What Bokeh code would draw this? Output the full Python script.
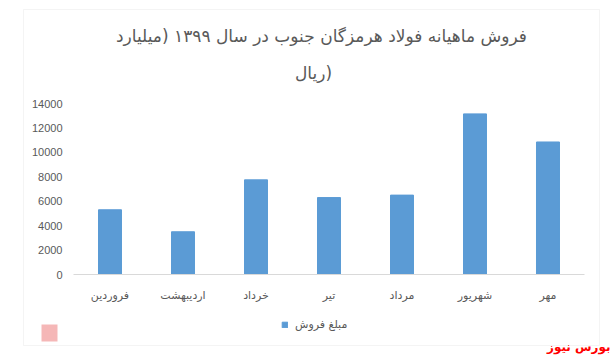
from bokeh.plotting import figure
from bokeh.models import (Range1d, Legend, LegendItem, Label,
                          BoxAnnotation, FixedTicker)
from bokeh.embed import file_html
from bokeh.resources import INLINE

months = ["فروردین", "اردیبهشت", "خرداد", "تیر", "مرداد", "شهریور", "مهر"]
sales = [5300, 3500, 7750, 6300, 6500, 13150, 10850]
y_ticks = [0, 2000, 4000, 6000, 8000, 10000, 12000, 14000]
title_line1 = "فروش ماهیانه فولاد هرمزگان جنوب در سال ۱۳۹۹ (میلیارد"
title_line2 = "ریال)"
series_name = "مبلغ فروش"
watermark = "بورس نیوز"

AR_FONT = "DejaVu Sans"
GRAY = "#595959"

positions = list(range(len(months)))

# the plot frame spans the whole canvas; ranges are chosen so that the
# data region sits where the reference draws it
p = figure(x_range=Range1d(-1.5, 6.911), y_range=Range1d(-6795, 22433),
           width=614, height=357, output_backend="svg", toolbar_location=None,
           min_border=0)
p.outline_line_color = None
p.xgrid.grid_line_color = None
p.ygrid.grid_line_color = None

r = p.vbar(x=positions, top=sales, width=0.315, color="#5b9bd5")

yax = p.yaxis[0]
yax.fixed_location = -0.5
yax.ticker = FixedTicker(ticks=y_ticks)
yax.axis_line_color = None
yax.major_tick_line_color = None
yax.minor_tick_line_color = None
yax.major_tick_out = 0
yax.major_tick_in = 0
yax.major_label_standoff = 11
yax.major_label_text_color = GRAY
yax.major_label_text_font = "Liberation Sans"
yax.major_label_text_font_size = "11px"

xax = p.xaxis[0]
xax.fixed_location = 0
xax.bounds = (-0.5, len(months) - 0.5)
xax.ticker = FixedTicker(ticks=positions)
xax.major_label_overrides = {i: m for i, m in zip(positions, months)}
xax.axis_line_color = "#d9d9d9"
xax.major_tick_line_color = None
xax.minor_tick_line_color = None
xax.major_tick_out = 0
xax.major_tick_in = 0
xax.major_label_standoff = 14
xax.major_label_text_color = GRAY
xax.major_label_text_font = AR_FONT
xax.major_label_text_font_size = "11px"

legend = Legend(items=[LegendItem(label=series_name, renderers=[r])],
                orientation="horizontal", location=(281, 26),
                glyph_width=7, glyph_height=7, label_standoff=7,
                label_height=13,
                label_text_color=GRAY, label_text_font=AR_FONT,
                label_text_font_size="11px", border_line_color=None,
                background_fill_alpha=0, margin=0, padding=0)
p.add_layout(legend, "center")

# chart border
p.add_layout(BoxAnnotation(left=23, right=599, top=348, bottom=12,
                           left_units="screen", right_units="screen",
                           top_units="screen", bottom_units="screen",
                           fill_color=None, line_color="#d9d9d9", line_width=1))

for txt, x, y in [(title_line1, 321, 322), (title_line2, 313, 285)]:
    p.add_layout(Label(x=x, y=y, x_units="screen", y_units="screen", text=txt,
                       text_align="center", text_baseline="middle",
                       text_font=AR_FONT, text_font_size="17px",
                       text_color=GRAY))

p.add_layout(Label(x=610, y=11, x_units="screen", y_units="screen",
                   text=watermark, text_align="right", text_baseline="middle",
                   text_font=AR_FONT, text_font_size="12px",
                   text_font_style="bold", text_color="#ff0000"))

# faint logo mark at the bottom left
p.add_layout(BoxAnnotation(left=41, right=57, top=33, bottom=16,
                           left_units="screen", right_units="screen",
                           top_units="screen", bottom_units="screen",
                           fill_color="#f2a5a5", fill_alpha=0.8, line_color=None))

open("out.html", "w").write(file_html(p, INLINE))
